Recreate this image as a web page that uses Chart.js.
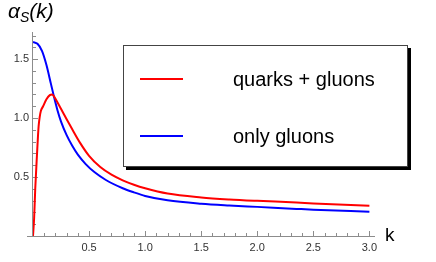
<!DOCTYPE html>
<html>
<head>
<meta charset="utf-8">
<script src="https://cdn.jsdelivr.net/npm/chart.js@4.4.1/dist/chart.umd.min.js"></script>
<style>
  html, body { margin: 0; padding: 0; background: #fff; }
  #wrap { position: relative; width: 436px; height: 262px; font-family: "Liberation Sans", Arial, sans-serif; color: #000; }
  #chart { position: absolute; left: 0; top: 0; }
  #title { position: absolute; left: 8px; top: -1px; font-size: 21px; font-style: italic; white-space: nowrap; }
  #title sub { font-size: 14px; vertical-align: -4px; }
  #xlabel { position: absolute; left: 385px; top: 224px; font-size: 19px; }
  #legend { position: absolute; left: 123px; top: 45px; width: 283px; height: 120px; border: 1px solid #444;
            background: #fff; box-shadow: 3px 3px 0 #000; }
  .row { position: absolute; left: 0; height: 24px; width: 100%; }
  .swatch { position: absolute; left: 16px; top: 11px; width: 43px; height: 2px; }
  .lbl { position: absolute; left: 109px; top: 0; font-size: 20px; line-height: 24px; white-space: nowrap; }
</style>
</head>
<body>
<div id="wrap">
  <canvas id="chart" width="436" height="262"></canvas>
  <div id="title">α<sub>S</sub>(k)</div>
  <div id="xlabel">k</div>
  <div id="legend">
    <div class="row" style="top:21px"><div class="swatch" style="background:#ff0000"></div><div class="lbl">quarks + gluons</div></div>
    <div class="row" style="top:78px"><div class="swatch" style="background:#0000ff"></div><div class="lbl">only gluons</div></div>
  </div>
</div>
<script>
// -------------------------------------------------------
// DATA
const kQuarks = [0, 0.01, 0.02, 0.035, 0.05, 0.06, 0.07, 0.09, 0.12, 0.15, 0.17, 0.19, 0.22, 0.26, 0.30, 0.35, 0.42, 0.50, 0.60, 0.70, 0.80, 0.90, 1.0, 1.2, 1.5, 1.75, 2.0, 2.35, 2.5, 3.0];
const quarksGluons = [0, 0.15, 0.40, 0.68, 0.93, 1.01, 1.06, 1.10, 1.16, 1.195, 1.20, 1.18, 1.13, 1.06, 0.99, 0.905, 0.79, 0.68, 0.585, 0.52, 0.472, 0.435, 0.405, 0.36, 0.327, 0.31, 0.298, 0.284, 0.276, 0.257];

const kGluons = [0, 0.04, 0.08, 0.12, 0.16, 0.19, 0.22, 0.25, 0.30, 0.35, 0.40, 0.47, 0.55, 0.65, 0.80, 0.90, 1.0, 1.2, 1.5, 1.75, 2.0, 2.35, 2.5, 3.0];
const onlyGluons = [1.645, 1.63, 1.57, 1.45, 1.29, 1.17, 1.06, 0.97, 0.855, 0.765, 0.69, 0.61, 0.54, 0.475, 0.405, 0.37, 0.34, 0.303, 0.274, 0.259, 0.247, 0.23, 0.223, 0.206];

const xTicks = [0.5, 1.0, 1.5, 2.0, 2.5, 3.0];
const yTicks = [0.5, 1.0, 1.5];
const xMinorStep = 0.1;
const yMinorStep = 0.1;

// -------------------------------------------------------
// AXES + TICK MARKS (Mathematica style, ticks pointing inward)
const axisTicks = {
  id: "axisTicks",
  beforeDatasetsDraw(chart) {
    const { ctx, chartArea, scales: { x, y } } = chart;
    const x0 = x.getPixelForValue(0);
    const y0 = y.getPixelForValue(0);
    ctx.save();
    ctx.strokeStyle = "#8c8c8c";
    ctx.lineWidth = 1;
    ctx.beginPath();
    ctx.moveTo(x0 - 6, y0 + 0.5);
    ctx.lineTo(chartArea.right, y0 + 0.5);
    ctx.moveTo(x0 - 0.5, y0);
    ctx.lineTo(x0 - 0.5, chartArea.top);
    // x ticks
    for (let i = 1; i * xMinorStep <= x.max + 1e-9; i++) {
      const v = i * xMinorStep;
      const px = Math.round(x.getPixelForValue(v)) + 0.5;
      const major = xTicks.some((t) => Math.abs(t - v) < 1e-6);
      ctx.moveTo(px, y0);
      ctx.lineTo(px, y0 - (major ? 5 : 3));
    }
    // y ticks
    for (let i = 1; i * yMinorStep <= y.max + 1e-9; i++) {
      const v = i * yMinorStep;
      const py = Math.round(y.getPixelForValue(v)) + 0.5;
      const major = yTicks.some((t) => Math.abs(t - v) < 1e-6);
      ctx.moveTo(x0, py);
      ctx.lineTo(x0 + (major ? 5 : 3), py);
    }
    ctx.stroke();
    ctx.restore();
  },
};

// -------------------------------------------------------
// CHART
new Chart(document.getElementById("chart"), {
  type: "line",
  data: {
    datasets: [
      {
        label: "quarks + gluons",
        data: kQuarks.map((k, i) => ({ x: k, y: quarksGluons[i] })),
        borderColor: "#ff0000",
        borderWidth: 2,
        pointRadius: 0,
        cubicInterpolationMode: "monotone",
      },
      {
        label: "only gluons",
        data: kGluons.map((k, i) => ({ x: k, y: onlyGluons[i] })),
        borderColor: "#0000ff",
        borderWidth: 2,
        pointRadius: 0,
        cubicInterpolationMode: "monotone",
      },
    ],
  },
  options: {
    responsive: false,
    animation: false,
    layout: { padding: { left: 0, top: 32, right: 61, bottom: 0 } },
    plugins: { legend: { display: false }, tooltip: { enabled: false } },
    scales: {
      x: {
        type: "linear",
        min: 0,
        max: 3.05,
        grid: { display: false, drawTicks: false },
        border: { display: false },
        afterBuildTicks: (s) => { s.ticks = xTicks.map((v) => ({ value: v })); },
        afterFit: (s) => { s.height = 26; },
        ticks: {
          padding: 5,
          color: "#333",
          font: { family: "Liberation Sans", size: 11 },
          maxRotation: 0,
          autoSkip: false,
          callback: (v) => Number(v).toFixed(1),
        },
      },
      y: {
        type: "linear",
        min: 0,
        max: 1.73,
        grid: { display: false, drawTicks: false },
        border: { display: false },
        afterBuildTicks: (s) => { s.ticks = yTicks.map((v) => ({ value: v })); },
        afterFit: (s) => { s.width = 33; },
        ticks: {
          padding: 4,
          color: "#333",
          font: { family: "Liberation Sans", size: 11 },
          callback: (v) => Number(v).toFixed(1),
        },
      },
    },
  },
  plugins: [axisTicks],
});
</script>
</body>
</html>
